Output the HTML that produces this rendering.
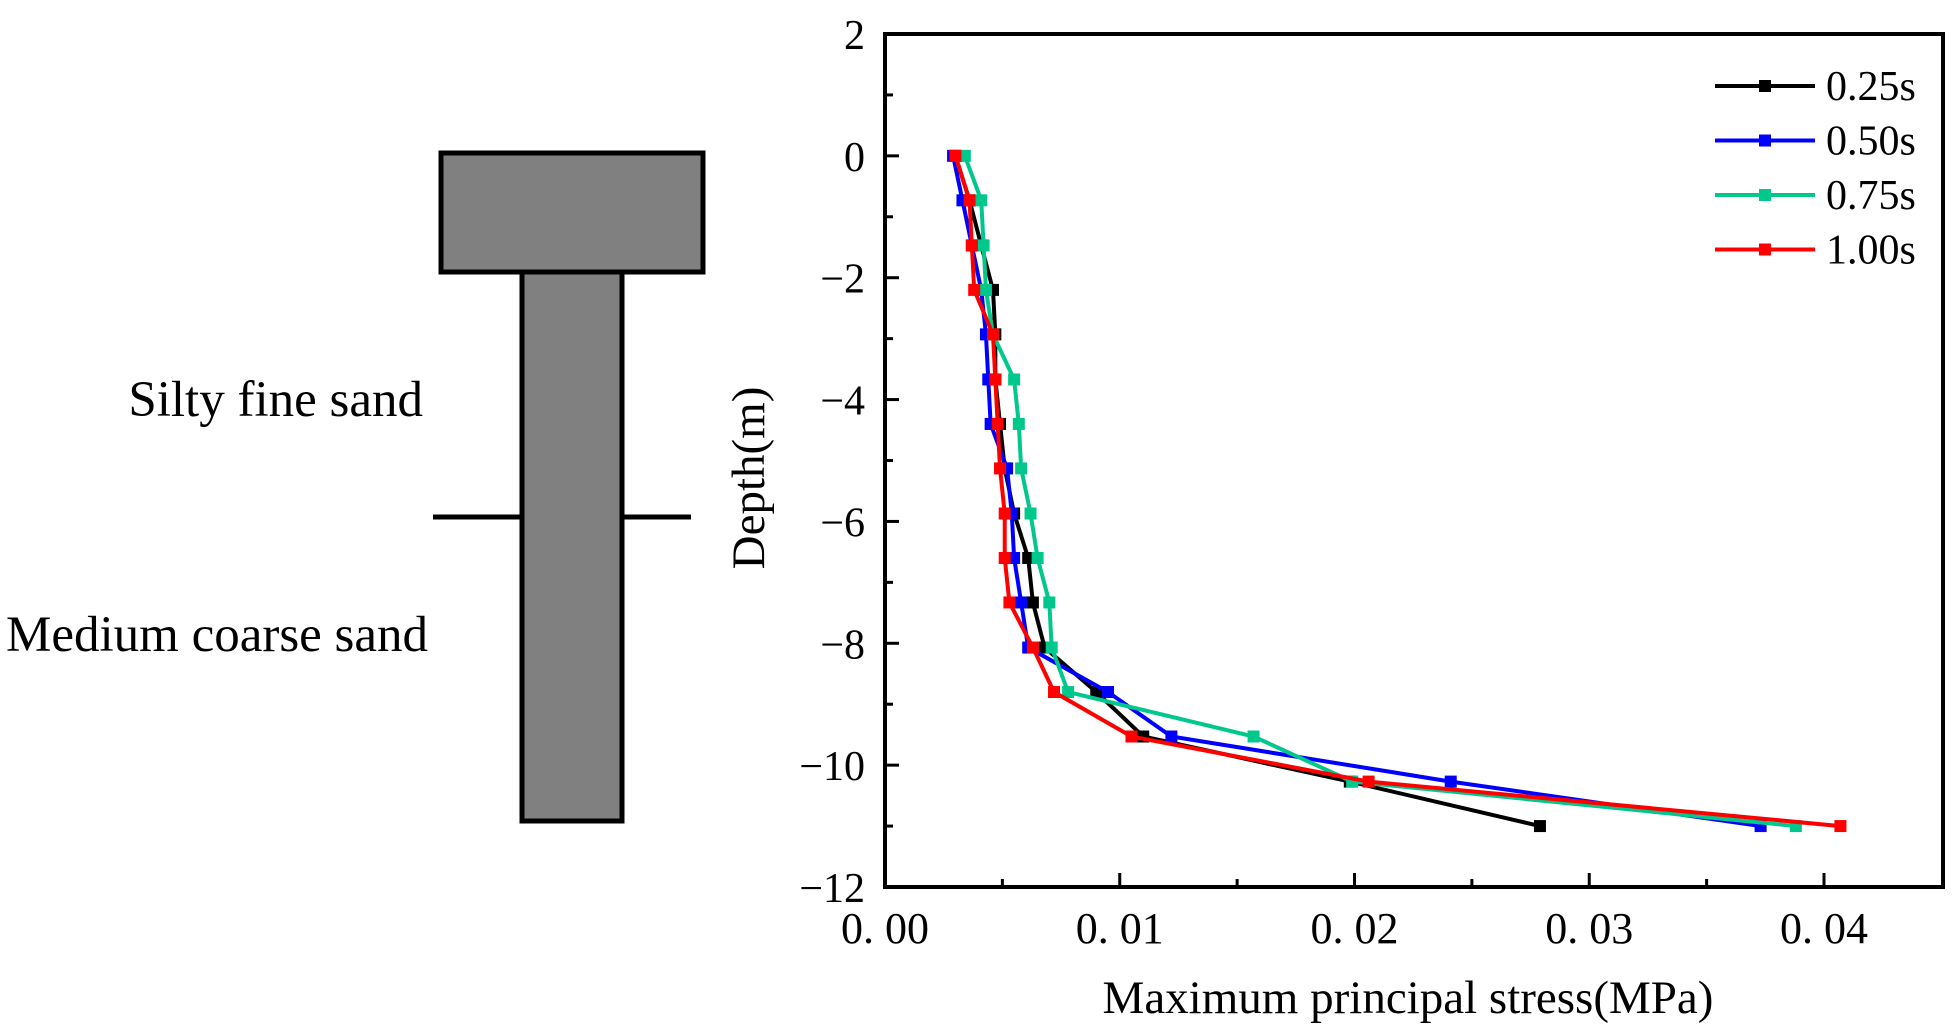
<!DOCTYPE html>
<html><head><meta charset="utf-8"><style>
html,body{margin:0;padding:0;background:#fff;}
svg{display:block;font-family:"Liberation Serif",serif;}
</style></head><body>
<svg id="chart" width="1959" height="1034" viewBox="0 0 1959 1034">
<g>
<rect x="441" y="153" width="262" height="119" fill="#808080" stroke="#000" stroke-width="5"/>
<rect x="522" y="272" width="100" height="549" fill="#808080" stroke="#000" stroke-width="5"/>
<line x1="433" y1="517" x2="522" y2="517" stroke="#000" stroke-width="5"/>
<line x1="622" y1="517" x2="691" y2="517" stroke="#000" stroke-width="5"/>
<text x="423" y="416" text-anchor="end" font-size="51">Silty fine sand</text>
<text x="6" y="651" font-size="51">Medium coarse sand</text>
</g>
<g id="plot"></g>
</svg>
<script>
const depths=[0,-0.73,-1.47,-2.2,-2.93,-3.67,-4.4,-5.13,-5.87,-6.6,-7.33,-8.07,-8.8,-9.53,-10.27,-11];
const s025=[0.0030,0.0036,0.0041,0.0046,0.0047,0.0047,0.0049,0.0051,0.0055,0.0061,0.0063,0.0068,0.0090,0.0110,0.0198,0.0279];
const s050=[0.0029,0.0033,0.0037,0.0041,0.0043,0.0044,0.0045,0.0052,0.0054,0.0055,0.0058,0.0061,0.0095,0.0122,0.0241,0.0373];
const s075=[0.0034,0.0041,0.0042,0.0043,0.0046,0.0055,0.0057,0.0058,0.0062,0.0065,0.0070,0.0071,0.0078,0.0157,0.0199,0.0388];
const s100=[0.0030,0.0036,0.0037,0.0038,0.0046,0.0047,0.0048,0.0049,0.0051,0.0051,0.0053,0.0063,0.0072,0.0105,0.0206,0.0407];
const seriesNames=["0.25s","0.50s","0.75s","1.00s"];
const seriesColors=["#000000","#0000ff","#00c88c","#ff0000"];
const xTicks=[0,0.01,0.02,0.03,0.04];
const xTickLabels=["0. 00","0. 01","0. 02","0. 03","0. 04"];
const yTicks=[2,0,-2,-4,-6,-8,-10,-12];
const yTickLabels=["2","0","\u22122","\u22124","\u22126","\u22128","\u221210","\u221212"];

const L=885,R=1943,T=34,B=887;
const X=v=>L+v/0.04*(1824-L);
const Y=v=>T+(2-v)/14*(B-T);
const NS="http://www.w3.org/2000/svg";
const g=document.getElementById('plot');
function mk(tag,attrs,parent){const e=document.createElementNS(NS,tag);for(const k in attrs)e.setAttribute(k,attrs[k]);(parent||g).appendChild(e);return e;}

const frame=mk('rect',{x:L,y:T,width:R-L,height:B-T,fill:'none',stroke:'#000','stroke-width':4});



for(let v=-12;v<=2;v+=1){
  const major=(v%2===0);
  const t=mk('line',{x1:L,x2:L+(major?14:8),y1:Y(v),y2:Y(v),stroke:'#000','stroke-width':3});
  
  
}
yTicks.forEach((v,i)=>{
  const t=mk('text',{x:L-20,y:Y(v)+15,'text-anchor':'end','font-size':42});
  
  
  t.textContent=yTickLabels[i];
});
for(let v=0.005;v<0.045;v+=0.005){
  const major=Math.abs(v/0.01-Math.round(v/0.01))<1e-6;
  const t=mk('line',{x1:X(v),x2:X(v),y1:B,y2:B-(major?14:8),stroke:'#000','stroke-width':3});
  
  
}
xTicks.forEach((v,i)=>{
  const t=mk('text',{x:X(v),y:B+56,'text-anchor':'middle','font-size':44});
  
  
  t.textContent=xTickLabels[i];
});
const xt=mk('text',{x:1408,y:1013,'text-anchor':'middle','font-size':47});


xt.textContent='Maximum principal stress(MPa)';
const yt=mk('text',{x:0,y:0,'text-anchor':'middle','font-size':47,transform:'translate(764,478) rotate(-90)'});


yt.textContent='Depth(m)';

[s025,s050,s075,s100].forEach((s,si)=>{
  const grp=mk('g',{});
  
  
  const pl=mk('polyline',{points:s.map((v,i)=>X(v)+','+Y(depths[i])).join(' '),fill:'none',stroke:seriesColors[si],'stroke-width':4},grp);
  
  
  s.forEach((v,i)=>{
    const m=mk('rect',{x:X(v)-6,y:Y(depths[i])-6,width:12,height:12,fill:seriesColors[si]},grp);
    
    
  });
  const ly=86+si*54.5;
  const lg=mk('g',{});
  
  
  mk('line',{x1:1715,x2:1815,y1:ly,y2:ly,stroke:seriesColors[si],'stroke-width':4},lg);
  mk('rect',{x:1759,y:ly-6,width:12,height:12,fill:seriesColors[si]},lg);
  const lt=mk('text',{x:1826,y:ly+14,'font-size':42},lg);
  lt.textContent=seriesNames[si];
});
</script>
</body></html>
